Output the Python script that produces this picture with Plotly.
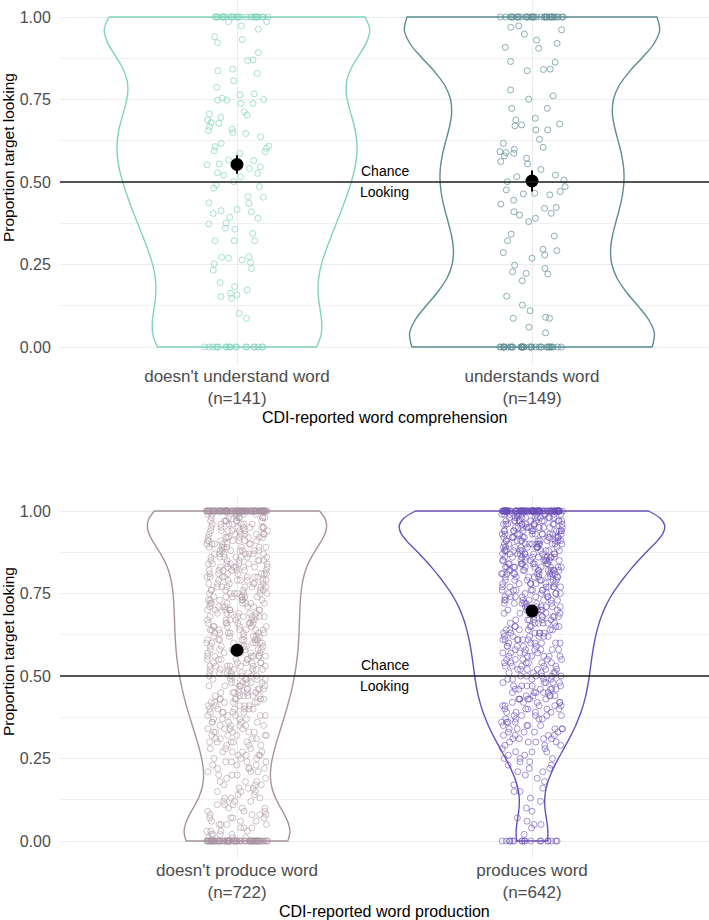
import numpy as np
import plotly.graph_objects as go

# ---------------- data ----------------
comp_categories = ["doesn't understand word<br>(n=141)", "understands word<br>(n=149)"]
prod_categories = ["doesn't produce word<br>(n=722)", "produces word<br>(n=642)"]

# comprehension panel: individual trial values
no_understand_mid = [
    0.986, 0.986, 0.973, 0.963, 0.94, 0.932, 0.922, 0.892, 0.87, 0.868,
    0.842, 0.837, 0.829, 0.807, 0.787, 0.767, 0.764, 0.754, 0.75, 0.748,
    0.748, 0.738, 0.738, 0.713, 0.706, 0.703, 0.696, 0.688, 0.68, 0.678,
    0.668, 0.66, 0.656, 0.65, 0.647, 0.637, 0.617, 0.609, 0.607, 0.602,
    0.595, 0.592, 0.587, 0.567, 0.565, 0.555, 0.552, 0.546,
    0.541, 0.528, 0.526, 0.521, 0.516, 0.501, 0.491, 0.486, 0.481,
    0.456, 0.454, 0.437, 0.435, 0.417, 0.413, 0.41, 0.405, 0.393, 0.39,
    0.375, 0.373, 0.36, 0.357, 0.344, 0.322, 0.322, 0.322, 0.274, 0.272,
    0.269, 0.264, 0.256, 0.252, 0.238, 0.233, 0.195, 0.183, 0.173, 0.163,
    0.158, 0.153, 0.147, 0.102, 0.087,
]
no_understand_ones = 29
no_understand_zeros = 20

understand_mid = [
    0.973, 0.969, 0.961, 0.948, 0.93, 0.92, 0.908, 0.905, 0.865, 0.863,
    0.842, 0.841, 0.837, 0.779, 0.761, 0.751, 0.723, 0.723, 0.693, 0.688,
    0.676, 0.673, 0.67, 0.658, 0.658, 0.629, 0.617, 0.605, 0.599, 0.592,
    0.589, 0.587, 0.579, 0.572, 0.562, 0.555, 0.538, 0.521, 0.516, 0.506,
    0.501, 0.486, 0.476, 0.471, 0.466, 0.464, 0.461, 0.445, 0.433, 0.423,
    0.42, 0.41, 0.405, 0.4, 0.39, 0.38, 0.342, 0.336, 0.322, 0.296,
    0.292, 0.286, 0.279, 0.269, 0.248, 0.238, 0.228, 0.223, 0.221, 0.201,
    0.154, 0.127, 0.11, 0.09, 0.087, 0.087, 0.06, 0.043,
]
understand_ones = 35
understand_zeros = 36

# production panel: counts of trials at each proportion level 0.01 ... 0.99
prop_levels = [round(i / 100, 2) for i in range(1, 100)]
no_produce_counts = [
    3, 4, 4, 3, 4, 3, 4, 4, 3,
    3, 3, 3, 3, 2, 3, 3, 3, 3, 2,
    3, 3, 4, 3, 4, 3, 4, 4, 3, 3,
    5, 4, 5, 5, 4, 5, 5, 4, 5, 5,
    6, 5, 6, 6, 6, 6, 6, 5, 6, 6,
    6, 6, 7, 7, 6, 6, 7, 7, 6, 6,
    7, 7, 6, 7, 7, 6, 7, 6, 7, 6,
    7, 6, 7, 6, 7, 7, 6, 7, 6, 7,
    7, 7, 7, 7, 7, 6, 7, 7, 7, 7,
    7, 7, 8, 7, 7, 8, 7, 7, 8, 7,
]
no_produce_ones = 108
no_produce_zeros = 77

produce_counts = [
    0, 1, 0, 1, 2, 1, 1, 0, 1,
    1, 0, 1, 1, 0, 2, 1, 1, 1, 1,
    1, 2, 2, 2, 2, 3, 2, 3, 2, 3,
    4, 4, 4, 4, 5, 4, 4, 4, 5, 4,
    5, 5, 5, 6, 5, 5, 6, 5, 5, 5,
    6, 5, 6, 5, 6, 5, 6, 5, 6, 5,
    6, 6, 6, 6, 6, 6, 6, 6, 6, 6,
    7, 7, 7, 7, 7, 7, 7, 7, 7, 7,
    9, 10, 11, 10, 9, 10, 11, 10, 10, 10,
    11, 11, 11, 11, 11, 11, 11, 12, 11, 12,
]
produce_ones = 95
produce_zeros = 18

# group means and confidence half-widths
comp_means = [0.553, 0.503]
comp_ci = [0.028, 0.032]
prod_means = [0.578, 0.697]
prod_ci = [0.016, 0.016]

y_ticks = [0, 0.25, 0.5, 0.75, 1.0]
chance_level = 0.5

# ---------------- build ----------------
def from_mid(mid, ones, zeros):
    return np.concatenate([np.ones(ones), np.array(mid, float), np.zeros(zeros)])

def from_counts(counts, ones, zeros):
    return np.concatenate([np.ones(ones), np.repeat(prop_levels, counts), np.zeros(zeros)])

def nrd0(v):
    v = np.asarray(v, float)
    sd = np.std(v, ddof=1)
    iqr = np.percentile(v, 75) - np.percentile(v, 25)
    lo = min(sd, iqr / 1.34) if iqr > 0 else sd
    return 0.9 * lo * len(v) ** (-0.2)

groups = [
    (comp_categories[0], from_mid(no_understand_mid, no_understand_ones, no_understand_zeros), "#7FD4BC", 0.7, "x", "y", "top", 0.25),
    (comp_categories[1], from_mid(understand_mid, understand_ones, understand_zeros), "#5B8D93", 0.7, "x", "y", "top", 0.25),
    (prod_categories[0], from_counts(no_produce_counts, no_produce_ones, no_produce_zeros), "#A8929F", 0.55, "x2", "y2", "bottom", 0.23),
    (prod_categories[1], from_counts(produce_counts, produce_ones, produce_zeros), "#6A4FB8", 0.6, "x2", "y2", "bottom", 0.23),
]

FONT = "Liberation Sans, Arial, Helvetica, sans-serif"
fig = go.Figure()

for cat, vals, col, op, xa, ya, sg, jit in groups:
    fig.add_trace(go.Violin(
        x=[cat] * len(vals), y=vals, xaxis=xa, yaxis=ya,
        line=dict(color=col, width=1.4), fillcolor="rgba(255,255,255,0)",
        points="all", jitter=jit, pointpos=0,
        marker=dict(symbol="circle-open", size=6, color=col, opacity=op,
                    line=dict(width=1, color=col)),
        spanmode="hard", bandwidth=nrd0(vals),
        scalegroup=sg, scalemode="width",
        showlegend=False, hoverinfo="y",
    ))

for cats, means, ci, xa, ya in [(comp_categories, comp_means, comp_ci, "x", "y"),
                                 (prod_categories, prod_means, prod_ci, "x2", "y2")]:
    fig.add_trace(go.Scatter(
        x=cats, y=means, xaxis=xa, yaxis=ya, mode="markers",
        marker=dict(color="black", size=13),
        error_y=dict(type="data", array=ci, color="black", thickness=2, width=0),
        showlegend=False, hoverinfo="y",
    ))

H = 920.0
def py(px):
    return 1 - px / H

xcommon = dict(type="category", range=[-0.6, 1.6], showgrid=True, gridcolor="#EBEBEB",
               gridwidth=1, zeroline=False, showline=False, ticks="", ticklen=0,
               tickfont=dict(family=FONT, size=17, color="#4D4D4D"))
ycommon = dict(range=[-0.05, 1.05], tickvals=y_ticks, tickformat=".2f", showgrid=True,
               gridcolor="#EBEBEB", gridwidth=1, zeroline=False, showline=False,
               ticks="outside", ticklen=5, tickcolor="rgba(0,0,0,0)",
               tickfont=dict(family=FONT, size=16, color="#4D4D4D"),
               minor=dict(tickvals=[0.125, 0.375, 0.625, 0.875], showgrid=True,
                          gridcolor="#F0F0F0", gridwidth=0.7, ticks=""))

fig.update_layout(
    width=709, height=920, margin=dict(l=60, r=0, t=0, b=0),
    paper_bgcolor="white", plot_bgcolor="white",
    violingap=0.1, violingroupgap=0, violinmode="overlay",
    font=dict(family=FONT),
    xaxis=dict(domain=[0, 1], anchor="y", categoryorder="array", categoryarray=comp_categories, **xcommon),
    yaxis=dict(domain=[py(363.5), py(0.5)], anchor="x", **ycommon),
    xaxis2=dict(domain=[0, 1], anchor="y2", categoryorder="array", categoryarray=prod_categories, **xcommon),
    yaxis2=dict(domain=[py(857.5), py(494.5)], anchor="x2", **ycommon),
)

shapes = []
annotations = []
for xa, ya in [("x", "y"), ("x2", "y2")]:
    shapes.append(dict(type="line", xref=f"{xa} domain", x0=0, x1=1, yref=ya,
                       y0=chance_level, y1=chance_level, line=dict(color="#1F1F1F", width=1.6)))
    annotations.append(dict(text="Chance", xref=f"{xa} domain", x=0.5, yref=ya, y=chance_level,
                            yshift=11, showarrow=False, font=dict(family=FONT, size=14, color="black")))
    annotations.append(dict(text="Looking", xref=f"{xa} domain", x=0.5, yref=ya, y=chance_level,
                            yshift=-10, showarrow=False, font=dict(family=FONT, size=14, color="black")))

for txt, ypx in [("CDI-reported word comprehension", 418), ("CDI-reported word production", 911)]:
    annotations.append(dict(text=txt, xref="paper", x=0.5, yref="paper", y=py(ypx),
                            yanchor="middle", showarrow=False,
                            font=dict(family=FONT, size=16, color="black")))
for ypx in [158, 652]:
    annotations.append(dict(text="Proportion target looking", xref="paper", x=(8 - 60) / 649.0,
                            xanchor="center", yref="paper", y=py(ypx), yanchor="middle",
                            textangle=-90, showarrow=False,
                            font=dict(family=FONT, size=15.5, color="black")))

fig.update_layout(shapes=shapes, annotations=annotations)

fig.write_html("out.html", config={"displayModeBar": False},
               post_script="document.body.style.margin='0';")
